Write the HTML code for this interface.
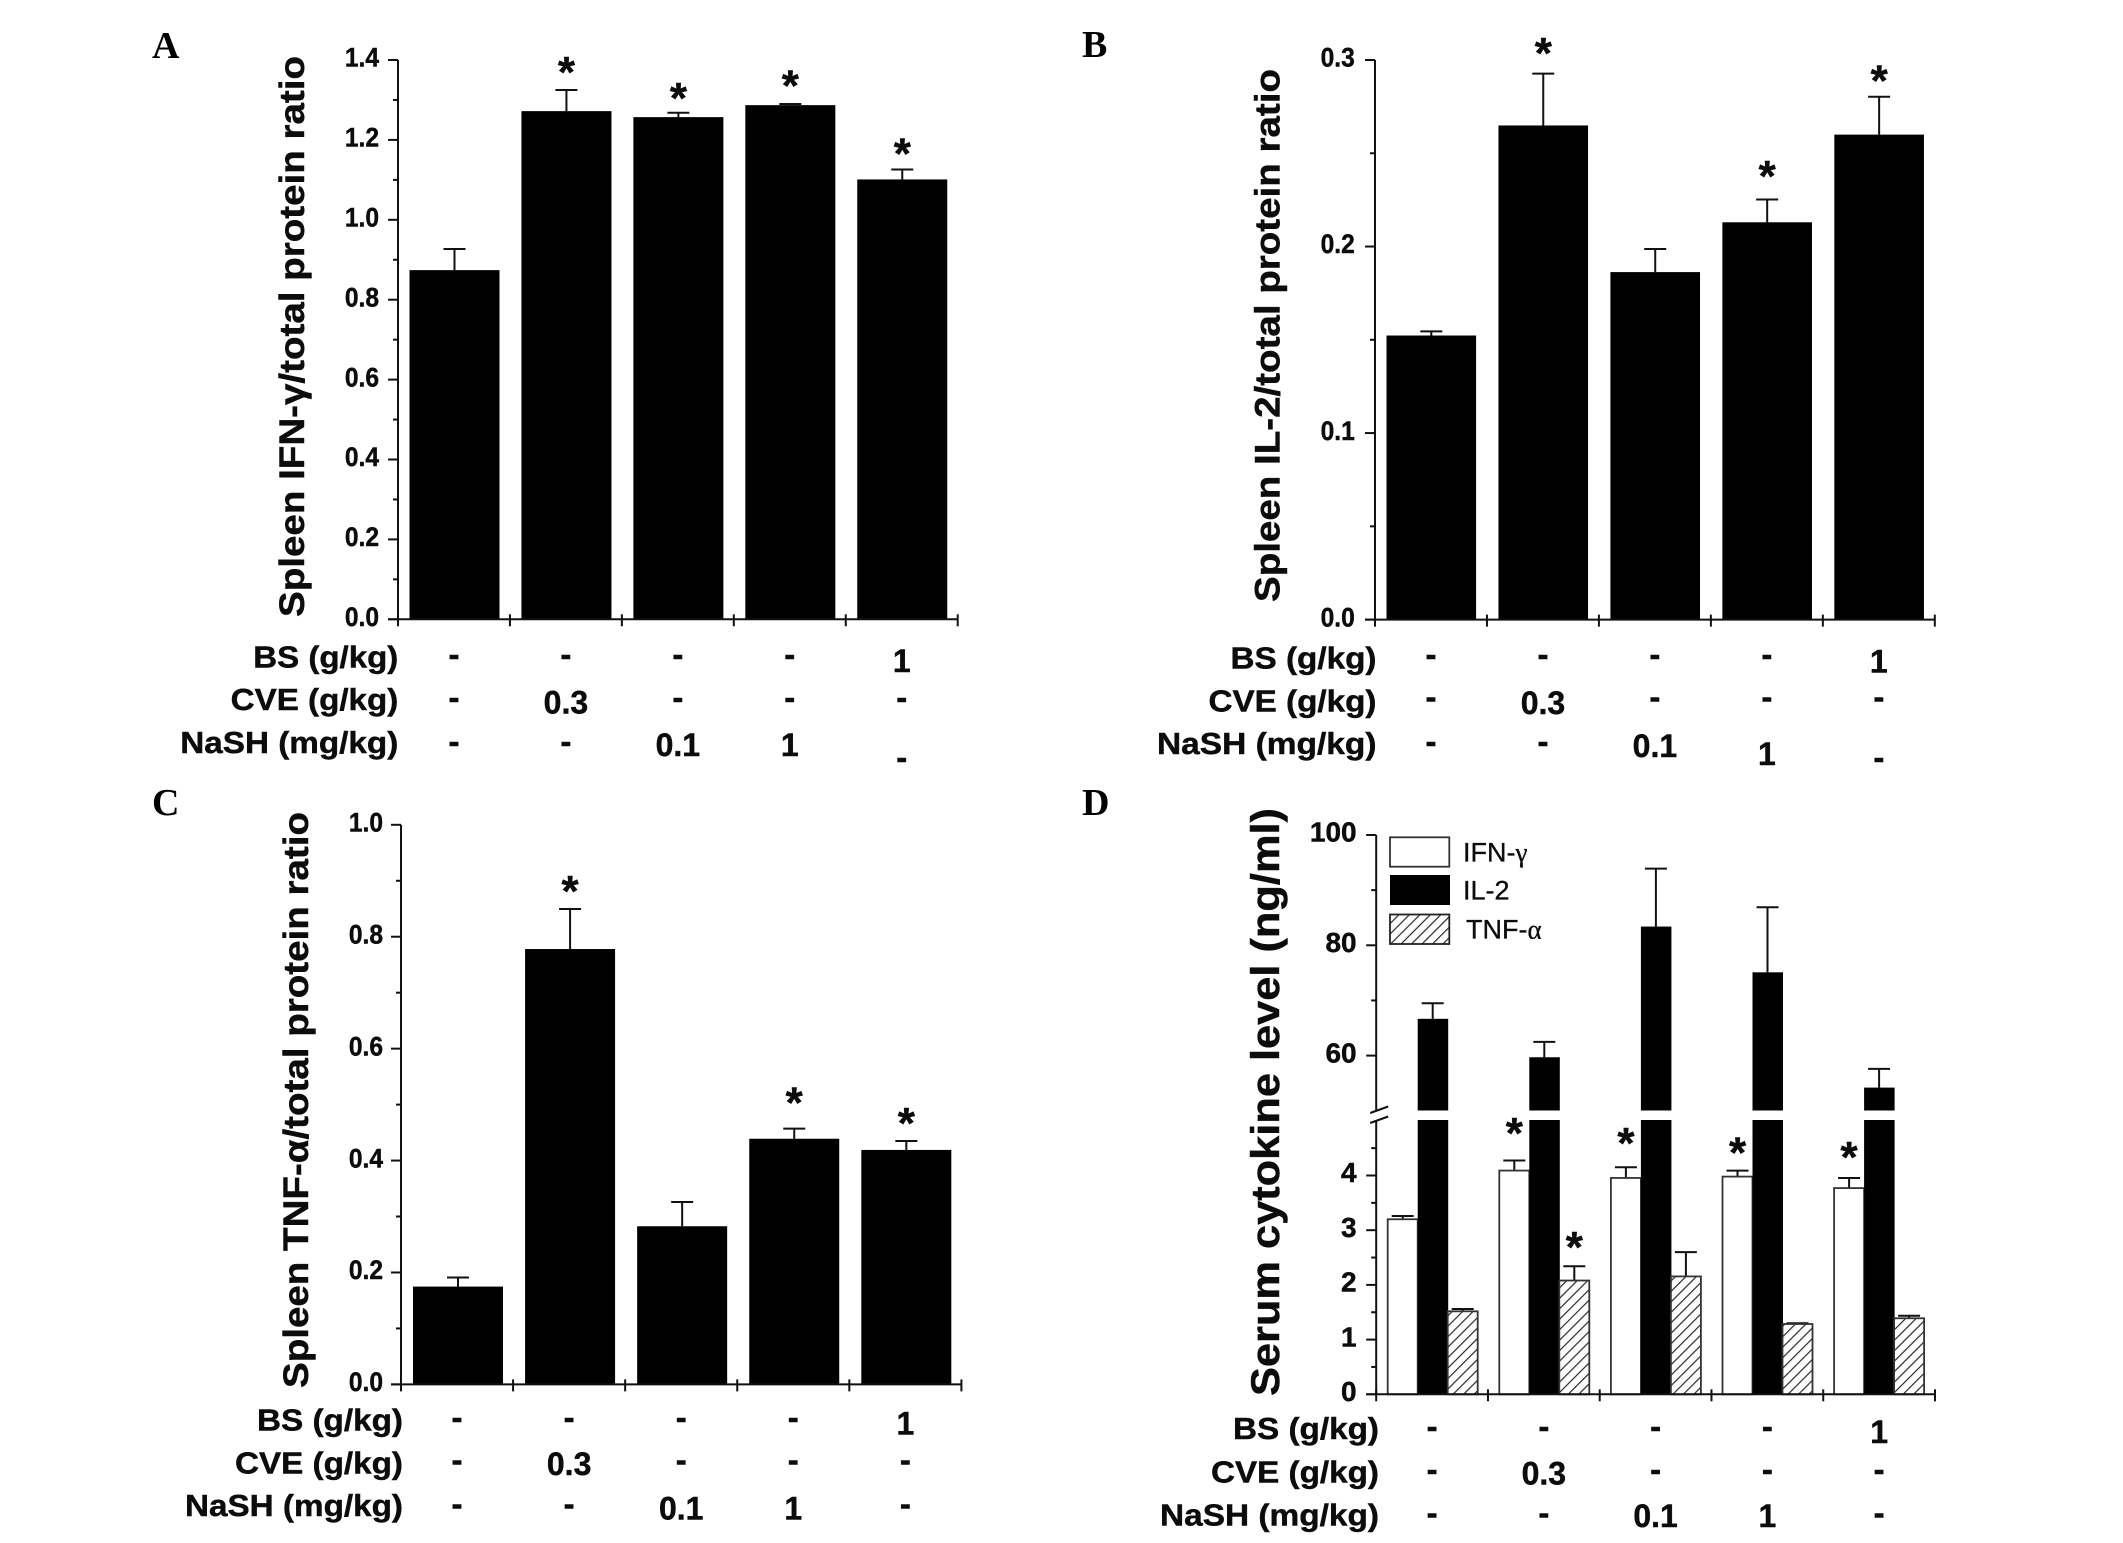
<!DOCTYPE html>
<html lang="en">
<head>
<meta charset="utf-8">
<title>Spleen and serum cytokine levels</title>
<style>
  html, body { margin: 0; padding: 0; background: #fff; }
  svg { display: block; }
  text { font-family: "Liberation Sans", sans-serif; fill: #0c0c0c; }
  .bold, text[font-weight="700"] { font-weight: 700; stroke: #0c0c0c; stroke-width: 0.45px; }
  .legend-text { stroke: #0c0c0c; stroke-width: 0.35px; }
  .letter { font-family: "Liberation Serif", serif; font-weight: 700; font-size: 38px; fill: #000; }
</style>
</head>
<body>
<svg id="figure" xmlns="http://www.w3.org/2000/svg" width="2123" height="1543" viewBox="0 0 2123 1543">
  <defs>
    <pattern id="hatch" patternUnits="userSpaceOnUse" width="7.4" height="7.4" patternTransform="rotate(45)">
      <line x1="0" y1="0" x2="0" y2="7.4" stroke="#2a2a2a" stroke-width="2.4"></line>
    </pattern>
  </defs>
  <rect width="2123" height="1543" fill="#fff"></rect>

  <text class="letter" x="152" y="58">A</text>
  <text class="letter" x="1082" y="57">B</text>
  <text class="letter" x="152" y="815">C</text>
  <text class="letter" x="1082" y="815">D</text>

  <text class="bold" font-size="35" transform="translate(304 617) rotate(-90)" textLength="561" lengthAdjust="spacingAndGlyphs">Spleen IFN-γ/total protein ratio</text>
  <text class="bold" font-size="35" transform="translate(1279.6 602) rotate(-90)" textLength="533" lengthAdjust="spacingAndGlyphs">Spleen IL-2/total protein ratio</text>
  <text class="bold" font-size="35" transform="translate(308 1388) rotate(-90)" textLength="576" lengthAdjust="spacingAndGlyphs">Spleen  TNF-α/total protein ratio</text>
  <text class="bold" font-size="40" transform="translate(1279 1396) rotate(-90)" textLength="588" lengthAdjust="spacingAndGlyphs">Serum cytokine level (ng/ml)</text>

  <g font-size="31" text-anchor="end">
    <text class="bold" x="398.3" y="667.3" textLength="145" lengthAdjust="spacingAndGlyphs">BS (g/kg)</text>
    <text class="bold" x="398.3" y="710" textLength="167.6" lengthAdjust="spacingAndGlyphs">CVE (g/kg)</text>
    <text class="bold" x="398.3" y="753" textLength="218" lengthAdjust="spacingAndGlyphs">NaSH (mg/kg)</text>
  </g>
  <g font-size="31" text-anchor="end">
    <text class="bold" x="1376.5" y="668.5" textLength="146" lengthAdjust="spacingAndGlyphs">BS (g/kg)</text>
    <text class="bold" x="1376.5" y="711.5" textLength="168" lengthAdjust="spacingAndGlyphs">CVE (g/kg)</text>
    <text class="bold" x="1376.5" y="754" textLength="219.5" lengthAdjust="spacingAndGlyphs">NaSH (mg/kg)</text>
  </g>
  <g font-size="31" text-anchor="end">
    <text class="bold" x="403" y="1430.5" textLength="146" lengthAdjust="spacingAndGlyphs">BS (g/kg)</text>
    <text class="bold" x="403" y="1473.5" textLength="168" lengthAdjust="spacingAndGlyphs">CVE (g/kg)</text>
    <text class="bold" x="403" y="1516" textLength="218" lengthAdjust="spacingAndGlyphs">NaSH (mg/kg)</text>
  </g>
  <g font-size="31" text-anchor="end">
    <text class="bold" x="1379" y="1439" textLength="146" lengthAdjust="spacingAndGlyphs">BS (g/kg)</text>
    <text class="bold" x="1379" y="1482.5" textLength="168" lengthAdjust="spacingAndGlyphs">CVE (g/kg)</text>
    <text class="bold" x="1379" y="1525.5" textLength="219" lengthAdjust="spacingAndGlyphs">NaSH (mg/kg)</text>
  </g>

  <g>
    <rect x="1390" y="837.3" width="59.3" height="29.4" fill="#fff" stroke="#333" stroke-width="1.8"></rect>
    <rect x="1390" y="875" width="60" height="30" fill="#000"></rect>
    <rect x="1390" y="914.5" width="59.3" height="29.5" fill="url(#hatch)" stroke="#222" stroke-width="1.8"></rect>
    <text class="legend-text" x="1463" y="861.5" font-size="27">IFN-<tspan font-family="Liberation Serif, serif">γ</tspan></text>
    <text class="legend-text" x="1463" y="899.5" font-size="27">IL-2</text>
    <text class="legend-text" x="1466" y="938.5" font-size="27">TNF-<tspan font-family="Liberation Serif, serif">α</tspan></text>
  </g>
</svg>

<script>
// Shared treatment table
const categories = ['control', 'CVE 0.3', 'NaSH 0.1', 'NaSH 1', 'BS 1'];
const bsRow   = ['-', '-', '-', '-', '1'];
const cveRow  = ['-', '0.3', '-', '-', '-'];
const nashRow = ['-', '-', '0.1', '1', '-'];

// Panel A: spleen IFN-gamma
const tickLabelsA = ['0.0', '0.2', '0.4', '0.6', '0.8', '1.0', '1.2', '1.4'];
const minorTicksA = [0.1, 0.3, 0.5, 0.7, 0.9, 1.1, 1.3];
const valuesA = [0.874, 1.272, 1.257, 1.287, 1.101];
const errorTopsA = [0.927, 1.325, 1.268, 1.290, 1.126];
const starLevelsA = [null, 1.382, 1.318, 1.349, 1.178];

// Panel B: spleen IL-2
const tickLabelsB = ['0.0', '0.1', '0.2', '0.3'];
const minorTicksB = [0.05, 0.15, 0.25];
const valuesB = [0.1523, 0.2649, 0.1863, 0.2130, 0.2600];
const errorTopsB = [0.1545, 0.2927, 0.1987, 0.2252, 0.2803];
const starLevelsB = [null, 0.3065, null, 0.2404, 0.2917];

// Panel C: spleen TNF-alpha
const tickLabelsC = ['0.0', '0.2', '0.4', '0.6', '0.8', '1.0'];
const minorTicksC = [0.1, 0.3, 0.5, 0.7, 0.9];
const valuesC = [0.1748, 0.778, 0.2826, 0.439, 0.419];
const errorTopsC = [0.191, 0.8496, 0.326, 0.457, 0.435];
const starLevelsC = [null, 0.891, null, 0.513, 0.476];

// Panel D: serum cytokines (broken axis)
const tickLabelsD = ['0', '1', '2', '3', '4', '60', '80', '100'];
const minorTicksD = [0.5, 1.5, 2.5, 3.5, 4.5, 70, 90];
const ifnValues = [3.2, 4.09, 3.955, 3.98, 3.77];
const ifnErrorTops = [3.26, 4.275, 4.15, 4.09, 3.955];
const ifnStarLevels = [null, 4.87, 4.69, 4.51, 4.43];
const il2Values = [66.67, 59.7, 83.4, 75.1, 54.2];
const il2ErrorTops = [69.5, 62.5, 93.9, 86.9, 57.6];
const tnfValues = [1.517, 2.08, 2.155, 1.285, 1.39];
const tnfErrorTops = [1.56, 2.34, 2.6, 1.30, 1.436];
const tnfStarLevels = [null, 2.785, null, null, null];

const SVG_NS = 'http://www.w3.org/2000/svg';
const figure = document.getElementById('figure');

function create(tag, parent, attrs) {
  const node = document.createElementNS(SVG_NS, tag);
  for (const key in attrs) node.setAttribute(key, attrs[key]);
  parent.appendChild(node);
  return node;
}

function addLine(parent, name, x1, y1, x2, y2, width) {
  const el = create('line', parent, { x1, y1, x2, y2, stroke: '#111', 'stroke-width': width });
  
  
  return el;
}

function addText(parent, name, x, y, str, size, anchor) {
  const el = create('text', parent, { x, y, 'font-size': size, 'text-anchor': anchor, 'font-weight': 700 });
  el.textContent = str;
  
  
  return el;
}

function addBar(parent, name, x, y, w, h, kind) {
  const fills = { solid: '#000', open: '#fff', hatched: 'url(#hatch)' };
  const el = create('rect', parent, { x, y, width: w, height: h, fill: fills[kind] });
  if (kind !== 'solid') {
    el.setAttribute('stroke', '#333');
    el.setAttribute('stroke-width', '1.8');
  }
  
  
  return el;
}

function addErrorBar(parent, name, cx, yBase, yTop) {
  const g = create('g', parent, {});
  
  
  addLine(g, 'error-stem', cx, yBase, cx, yTop, 2);
  addLine(g, 'error-cap', cx - 11, yTop, cx + 11, yTop, 2);
}

function addStar(parent, cx, y) {
  const el = create('text', parent, { x: cx, y: y + 20, 'font-size': 44, 'text-anchor': 'middle', 'font-weight': 700 });
  el.textContent = '*';
  
  
}

function drawXAxis(g, cfg, xAt) {
  addLine(g, 'x-axis-line', cfg.x0 - 10, cfg.y0, cfg.x1, cfg.y0, 2);
  categories.forEach(function (c, i) {
    addLine(g, 'x-tick', xAt(i), cfg.y0 - 5, xAt(i), cfg.y0 + 7, 2);
  });
  addLine(g, 'x-tick', xAt(categories.length), cfg.y0 - 5, xAt(categories.length), cfg.y0 + 7, 2);
}

function drawRows(g, cfg, center) {
  [bsRow, cveRow, nashRow].forEach(function (row, r) {
    row.forEach(function (val, i) {
      const shift = (cfg.nudge && cfg.nudge[r + ':' + i]) || 0;
      const cx = center(i);
      if (val === '-') {
        addText(g, 'treatment-dose-none', cx, cfg.dashY[r] + 8 + shift, '-', 33, 'middle');
      } else {
        addText(g, 'treatment-dose-' + val, cx, cfg.numY[r] + shift, val, 32, 'middle');
      }
    });
  });
}

function drawYTicks(g, cfg, yOf) {
  cfg.tickLabels.forEach(function (label) {
    const y = yOf(Number(label));
    addLine(g, 'y-tick', cfg.x0 - 10, y, cfg.x0, y, 2);
    const t = addText(g, 'y-tick-label', cfg.tickRight, y + 6.7, label, cfg.tickSize, 'end');
    t.setAttribute('textLength', t.getComputedTextLength() * cfg.tickSqueeze);
    t.setAttribute('lengthAdjust', 'spacingAndGlyphs');
  });
  cfg.minors.forEach(function (v) {
    addLine(g, 'y-minor-tick', cfg.x0 - 5, yOf(v), cfg.x0, yOf(v), 2);
  });
}

function drawPanel(cfg) {
  const g = create('g', figure, {});
  
  

  const step = (cfg.x1 - cfg.x0) / categories.length;
  const xAt = function (i) { return cfg.x0 + i * step; };
  const yOf = function (v) { return cfg.y0 - v * (cfg.y0 - cfg.yTop) / cfg.yMax; };
  const center = function (i) { return xAt(i) + step / 2; };

  cfg.values.forEach(function (v, i) {
    const left = xAt(i) + cfg.pad;
    const cx = left + cfg.barW / 2;
    addErrorBar(g, 'error-bar-' + cfg.id, cx, yOf(v), yOf(cfg.errors[i]));
    addBar(g, 'bar-' + cfg.id, left, yOf(v), cfg.barW, cfg.y0 - yOf(v), 'solid');
    if (cfg.stars[i] !== null) addStar(g, cx, yOf(cfg.stars[i]));
  });

  addLine(g, 'y-axis-line', cfg.x0, cfg.yTop, cfg.x0, cfg.y0, 2);
  drawYTicks(g, cfg, yOf);
  drawXAxis(g, cfg, xAt);
  drawRows(g, cfg, center);
}

function drawPanelD() {
  const cfg = {
    id: 'd', x0: 1376.2, x1: 1935, y0: 1394.3, tickRight: 1356.6, tickSize: 28, tickSqueeze: 1,
    tickLabels: tickLabelsD, minors: minorTicksD,
    dashY: [1429.6, 1472.7, 1516], numY: [1443, 1484.6, 1527]
  };
  const breakTop = 1110.5;
  const breakBottom = 1120;
  const g = create('g', figure, {});
  
  

  const step = (cfg.x1 - cfg.x0) / categories.length;
  const xAt = function (i) { return cfg.x0 + i * step; };
  const center = function (i) { return xAt(i) + step / 2; };
  const yOf = function (v) {
    return v <= 5 ? cfg.y0 - v * 54.7 : 1055.6 - (v - 60) * 5.515;
  };
  const barW = 30;
  const firstBar = 1387.7;
  const barStep = 111.6;

  categories.forEach(function (c, i) {
    const left = firstBar + i * barStep;
    const xIfn = left;
    const xIl2 = left + barW;
    const xTnf = left + barW * 2;

    addErrorBar(g, 'error-bar-ifn', xIfn + barW / 2, yOf(ifnValues[i]), yOf(ifnErrorTops[i]));
    addErrorBar(g, 'error-bar-il2', xIl2 + barW / 2, yOf(il2Values[i]), yOf(il2ErrorTops[i]));
    addErrorBar(g, 'error-bar-tnf', xTnf + barW / 2, yOf(tnfValues[i]), yOf(tnfErrorTops[i]));

    addBar(g, 'bar-ifn', xIfn, yOf(ifnValues[i]), barW, cfg.y0 - yOf(ifnValues[i]), 'open');
    addBar(g, 'bar-il2-upper', xIl2, yOf(il2Values[i]), barW + 0.5, breakTop - yOf(il2Values[i]), 'solid');
    addBar(g, 'bar-il2-lower', xIl2, breakBottom, barW + 0.5, cfg.y0 - breakBottom, 'solid');
    addBar(g, 'bar-tnf', xTnf, yOf(tnfValues[i]), barW, cfg.y0 - yOf(tnfValues[i]), 'hatched');

    if (ifnStarLevels[i] !== null) addStar(g, xIfn + barW / 2, yOf(ifnStarLevels[i]));
    if (tnfStarLevels[i] !== null) addStar(g, xTnf + barW / 2, yOf(tnfStarLevels[i]));
  });

  addLine(g, 'y-axis-upper-line', cfg.x0, yOf(100), cfg.x0, breakTop, 2);
  addLine(g, 'y-axis-lower-line', cfg.x0, breakBottom, cfg.x0, cfg.y0, 2);
  addLine(g, 'axis-break-mark', cfg.x0 - 6, 1113, cfg.x0 + 12, 1106.5, 2);
  addLine(g, 'axis-break-mark', cfg.x0 - 6, 1123, cfg.x0 + 12, 1116.5, 2);
  drawYTicks(g, cfg, yOf);
  drawXAxis(g, cfg, xAt);
  drawRows(g, cfg, center);
}

drawPanel({
  id: 'a', x0: 398, x1: 957.7, y0: 619.3, yTop: 60, yMax: 1.4, pad: 11.5, barW: 90,
  values: valuesA, errors: errorTopsA, stars: starLevelsA,
  tickLabels: tickLabelsA, minors: minorTicksA, tickRight: 379, tickSize: 27, tickSqueeze: 0.91,
  dashY: [657.7, 700.7, 744.7], numY: [672, 713.5, 756],
  nudge: { '2:4': 16 }
});
drawPanel({
  id: 'b', x0: 1375, x1: 1934.8, y0: 619.6, yTop: 60, yMax: 0.3, pad: 11.5, barW: 89.6,
  values: valuesB, errors: errorTopsB, stars: starLevelsB,
  tickLabels: tickLabelsB, minors: minorTicksB, tickRight: 1354.8, tickSize: 27, tickSqueeze: 0.91,
  dashY: [657.5, 700, 744.6], numY: [672.5, 714, 757],
  nudge: { '2:3': 8, '2:4': 16 }
});
drawPanel({
  id: 'c', x0: 401, x1: 961.4, y0: 1384.4, yTop: 824.8, yMax: 1.0, pad: 12, barW: 90,
  values: valuesC, errors: errorTopsC, stars: starLevelsC,
  tickLabels: tickLabelsC, minors: minorTicksC, tickRight: 383, tickSize: 27, tickSqueeze: 0.91,
  dashY: [1420.4, 1463, 1507], numY: [1434.5, 1475, 1519.7]
});
drawPanelD();
</script>
</body>
</html>
